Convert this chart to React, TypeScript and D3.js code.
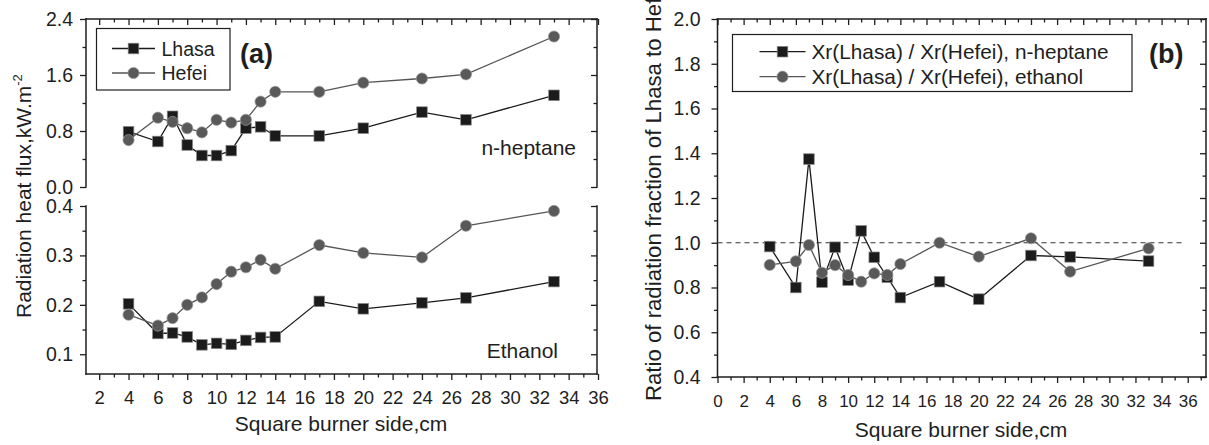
import React, { useEffect, useRef } from 'react';
import * as d3 from 'd3';

// burner side (cm) shared by every series
const sides = [4, 6, 7, 8, 9, 10, 11, 12, 13, 14, 17, 20, 24, 27, 33];

// (a) radiation heat flux, kW/m2
const heptaneLhasa = [0.79, 0.65, 1.01, 0.6, 0.45, 0.45, 0.52, 0.84, 0.86, 0.73, 0.73, 0.84, 1.07, 0.96, 1.31];
const heptaneHefei = [0.67, 0.99, 0.93, 0.84, 0.78, 0.96, 0.92, 0.96, 1.22, 1.36, 1.36, 1.49, 1.55, 1.61, 2.15];
const ethanolLhasa = [0.202, 0.142, 0.143, 0.135, 0.119, 0.122, 0.12, 0.128, 0.134, 0.135, 0.207, 0.192, 0.204, 0.214, 0.247];
const ethanolHefei = [0.18, 0.158, 0.173, 0.2, 0.215, 0.242, 0.267, 0.276, 0.291, 0.273, 0.321, 0.305, 0.296, 0.36, 0.39];

// (b) ratio Xr(Lhasa)/Xr(Hefei)
const ratioHeptane = [0.983, 0.8, 1.374, 0.824, 0.98, 0.833, 1.053, 0.935, 0.846, 0.755, 0.826, 0.748, 0.943, 0.937, 0.918];
const ratioEthanol = [0.901, 0.917, 0.99, 0.866, 0.9, 0.856, 0.826, 0.863, 0.856, 0.905, 1.0, 0.938, 1.02, 0.871, 0.975];

const heptaneTicks = [0, 0.8, 1.6, 2.4];
const heptaneMinor = [0.4, 1.2, 2.0];
const ethanolTicks = [0.1, 0.2, 0.3, 0.4];
const ethanolMinor = [0.15, 0.25, 0.35];
const ratioTicks = [0.4, 0.6, 0.8, 1.0, 1.2, 1.4, 1.6, 1.8, 2.0];
const ratioMinor = [0.5, 0.7, 0.9, 1.1, 1.3, 1.5, 1.7, 1.9];

const legendA = ['Lhasa', 'Hefei'];
const legendB = ['Xr(Lhasa) / Xr(Hefei), n-heptane', 'Xr(Lhasa) / Xr(Hefei), ethanol'];

const FONT = '"Liberation Sans", Arial, Helvetica, sans-serif';
const INK = '#1e1e1e';
const SQ_FILL = '#1b1b1b';
const CI_FILL = '#595959';

const App = () => {
    const svgRef = useRef<SVGSVGElement>(null);

    useEffect(() => {
        const svg = d3.select(svgRef.current);
        svg.selectAll('*').remove();
        svg.attr('font-family', FONT);

        const frame = (x1: number, y1: number, x2: number, y2: number) =>
            svg.append('line').attr('x1', x1).attr('y1', y1).attr('x2', x2).attr('y2', y2)
                .attr('stroke', INK).attr('stroke-width', 1.5).attr('stroke-linecap', 'square');

        const styleAxis = (g: any, size: number) => {
            g.select('.domain').remove();
            g.selectAll('line').attr('stroke', INK).attr('stroke-width', 1.3);
            g.selectAll('text').attr('font-size', size).attr('fill', INK).attr('font-family', FONT);
        };

        const ticksX = (x: d3.ScaleLinear<number, number>, y: number, from: number, to: number, labelSize: number, pad: number, top: number) => {
            const all = d3.range(from, to + 1);
            const major = all.filter(d => d % 2 === 0);
            const minor = all.filter(d => d % 2 !== 0);
            svg.append('g').attr('transform', `translate(0,${y})`)
                .call(d3.axisBottom(x).tickValues(major).tickSize(6).tickPadding(pad).tickFormat(d3.format('d')))
                .call(g => styleAxis(g, labelSize));
            svg.append('g').attr('transform', `translate(0,${y})`)
                .call(d3.axisBottom(x).tickValues(minor).tickSize(3.5).tickFormat(() => ''))
                .call(g => styleAxis(g, labelSize));
            svg.append('g').attr('transform', `translate(0,${top})`)
                .call(d3.axisTop(x).tickValues(major).tickSize(-6).tickFormat(() => ''))
                .call(g => styleAxis(g, labelSize));
            svg.append('g').attr('transform', `translate(0,${top})`)
                .call(d3.axisTop(x).tickValues(minor).tickSize(-3.5).tickFormat(() => ''))
                .call(g => styleAxis(g, labelSize));
        };

        const ticksY = (y: d3.ScaleLinear<number, number>, left: number, right: number, major: number[], minor: number[], fmt: string, pad: number) => {
            svg.append('g').attr('transform', `translate(${left},0)`)
                .call(d3.axisLeft(y).tickValues(major).tickSize(6).tickPadding(pad).tickFormat(d3.format(fmt)))
                .call(g => styleAxis(g, 19.5));
            svg.append('g').attr('transform', `translate(${left},0)`)
                .call(d3.axisLeft(y).tickValues(minor).tickSize(3.5).tickFormat(() => ''))
                .call(g => styleAxis(g, 19.5));
            svg.append('g').attr('transform', `translate(${right},0)`)
                .call(d3.axisRight(y).tickValues(major).tickSize(-6).tickFormat(() => ''))
                .call(g => styleAxis(g, 19.5));
            svg.append('g').attr('transform', `translate(${right},0)`)
                .call(d3.axisRight(y).tickValues(minor).tickSize(-3.5).tickFormat(() => ''))
                .call(g => styleAxis(g, 19.5));
        };

        const series = (x: any, y: any, vals: number[], shape: 'square' | 'circle') => {
            const pts = sides.map((s, i) => [x(s), y(vals[i])] as [number, number]);
            svg.append('path').attr('d', d3.line()(pts)).attr('fill', 'none')
                .attr('stroke', shape === 'square' ? '#1b1b1b' : '#555').attr('stroke-width', 1.3);
            if (shape === 'square') {
                svg.append('g').selectAll('rect').data(pts).enter().append('rect')
                    .attr('x', d => d[0] - 5.3).attr('y', d => d[1] - 5.3)
                    .attr('width', 10.6).attr('height', 10.6)
                    .attr('fill', SQ_FILL).attr('stroke', '#888').attr('stroke-width', 0.7);
            } else {
                svg.append('g').selectAll('circle').data(pts).enter().append('circle')
                    .attr('cx', d => d[0]).attr('cy', d => d[1]).attr('r', 5.6)
                    .attr('fill', CI_FILL).attr('stroke', '#999').attr('stroke-width', 0.7);
            }
        };

        const legendMark = (cx: number, cy: number, shape: 'square' | 'circle', half: number) => {
            svg.append('line').attr('x1', cx - half).attr('x2', cx + half).attr('y1', cy).attr('y2', cy)
                .attr('stroke', shape === 'square' ? '#1b1b1b' : '#555').attr('stroke-width', 1.3);
            if (shape === 'square') {
                svg.append('rect').attr('x', cx - 5.3).attr('y', cy - 5.3).attr('width', 10.6).attr('height', 10.6)
                    .attr('fill', SQ_FILL).attr('stroke', '#888').attr('stroke-width', 0.7);
            } else {
                svg.append('circle').attr('cx', cx).attr('cy', cy).attr('r', 5.6)
                    .attr('fill', CI_FILL).attr('stroke', '#999').attr('stroke-width', 0.7);
            }
        };

        // ---------- panel (a) ----------
        const xa = d3.scaleLinear().domain([1.1, 36]).range([86, 598]);
        const yTop = d3.scaleLinear().domain([0, 2.4]).range([187, 19]);
        const yBot = d3.scaleLinear().domain([0.06, 0.4]).range([374, 206]);

        ticksX(xa, 374, 2, 36, 18.5, 11, 19);
        ticksY(yTop, 86, 597, heptaneTicks, heptaneMinor, '.1f', 7);
        ticksY(yBot, 86, 597, ethanolTicks, ethanolMinor, '.1f', 7);

        frame(86, 19, 597, 19);
        frame(86, 19, 86, 187);
        frame(597, 19, 597, 187);
        frame(86, 206, 86, 374);
        frame(597, 206, 597, 374);
        frame(86, 374, 597, 374);

        series(xa, yTop, heptaneLhasa, 'square');
        series(xa, yTop, heptaneHefei, 'circle');
        series(xa, yBot, ethanolLhasa, 'square');
        series(xa, yBot, ethanolHefei, 'circle');

        svg.append('rect').attr('x', 96.5).attr('y', 28.5).attr('width', 133.5).attr('height', 61.5)
            .attr('fill', '#fff').attr('stroke', INK).attr('stroke-width', 1.2);
        legendA.forEach((name, i) => {
            const cy = 48.5 + i * 24.5;
            legendMark(133.5, cy, i === 0 ? 'square' : 'circle', 21.5);
            svg.append('text').attr('x', 161.5).attr('y', cy + 7).attr('font-size', 19.5).attr('fill', INK).text(name);
        });
        svg.append('text').attr('x', 240).attr('y', 62.5).attr('font-size', 27).attr('font-weight', 'bold').attr('fill', INK).text('(a)');
        svg.append('text').attr('x', 576).attr('y', 155).attr('text-anchor', 'end').attr('font-size', 21).attr('fill', INK).text('n-heptane');
        svg.append('text').attr('x', 558).attr('y', 358).attr('text-anchor', 'end').attr('font-size', 21).attr('fill', INK).text('Ethanol');

        svg.append('text').attr('x', 341).attr('y', 431).attr('text-anchor', 'middle').attr('font-size', 21).attr('fill', INK)
            .text('Square burner side,cm');
        const yt = svg.append('text').attr('transform', 'translate(31,318) rotate(-90)').attr('font-size', 21).attr('fill', INK);
        yt.append('tspan').text('Radiation heat flux,kW.m');
        yt.append('tspan').attr('font-size', 13).attr('dy', -9).text('-2');

        // ---------- panel (b) ----------
        const xb = d3.scaleLinear().domain([0, 37.4]).range([717.5, 1206]);
        const yb = d3.scaleLinear().domain([0.4, 2.0]).range([377, 19]);

        ticksX(xb, 377, 0, 37, 17, 12, 19);
        ticksY(yb, 717.5, 1206, ratioTicks, ratioMinor, '.1f', 11);

        frame(717.5, 19, 1206, 19);
        frame(717.5, 377, 1206, 377);
        frame(717.5, 19, 717.5, 377);
        frame(1206, 19, 1206, 377);

        svg.append('line').attr('x1', xb(0)).attr('x2', xb(35.6)).attr('y1', yb(1.0)).attr('y2', yb(1.0))
            .attr('stroke', '#333').attr('stroke-width', 1).attr('stroke-dasharray', '5,4');

        series(xb, yb, ratioHeptane, 'square');
        series(xb, yb, ratioEthanol, 'circle');

        svg.append('rect').attr('x', 732.5).attr('y', 34.5).attr('width', 399.5).attr('height', 57)
            .attr('fill', '#fff').attr('stroke', INK).attr('stroke-width', 1.2);
        legendB.forEach((name, i) => {
            const cy = 51.7 + i * 25;
            legendMark(782.5, cy, i === 0 ? 'square' : 'circle', 23);
            svg.append('text').attr('x', 811.5).attr('y', cy + 7.3).attr('font-size', 20.8).attr('fill', INK).text(name);
        });
        svg.append('text').attr('x', 1149).attr('y', 62.5).attr('font-size', 27).attr('font-weight', 'bold').attr('fill', INK).text('(b)');

        svg.append('text').attr('x', 961).attr('y', 437).attr('text-anchor', 'middle').attr('font-size', 21).attr('fill', INK)
            .text('Square burner side,cm');
        svg.append('text').attr('transform', 'translate(661,401) rotate(-90)').attr('font-size', 22.2).attr('fill', INK)
            .text('Ratio of radiation fraction of Lhasa to Hefei');
    }, []);

    return (
        <div style={{ position: 'absolute', left: 0, top: 0, width: 1209, height: 445, overflow: 'hidden', background: '#fff' }}>
            <svg ref={svgRef} width={1209} height={445} style={{ display: 'block' }}></svg>
        </div>
    );
};

export default App;
